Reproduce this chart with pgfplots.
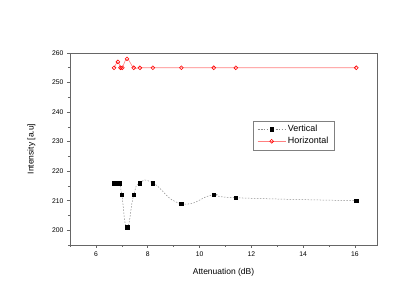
\documentclass[border=0pt]{standalone}
\usepackage{fontspec}
\setmainfont{Liberation Sans}
\usepackage{pgfplots}
\pgfplotsset{compat=1.18}
\begin{document}
\begin{tikzpicture}[x=1bp,y=1bp]
\useasboundingbox (0,0) rectangle (415,294);
\begin{axis}[
  at={(70bp,49bp)}, anchor=south west,
  scale only axis, width=307bp, height=192bp,
  xmin=5, xmax=16.85, ymin=195, ymax=260,
  xtick={6,8,10,12,14,16}, ytick={200,210,...,260},
  minor xtick={5,7,9,11,13,15}, minor ytick={195,205,...,255},
  tick align=outside, tick pos=left,
  major tick length=3bp, minor tick length=2bp,
  axis line style={draw=black!60, line width=0.8pt},
  every tick/.style={black!60, line width=0.6pt},
  /pgf/number format/assume math mode=true,
  ticklabel style={font=\fontsize{6.8}{8}\selectfont},
  xlabel={Attenuation (dB)}, ylabel={Intensity [a.u]},
  label style={font=\fontsize{8.5}{10}\selectfont},
  xlabel style={yshift=-5bp},
  ylabel style={yshift=10bp},
  legend style={at={(axis cs:12.07,237.1)}, anchor=north west,
    draw=black!50, font=\fontsize{9}{10.5}\selectfont, inner xsep=4pt, inner ysep=2.5pt, row sep=0pt},
  legend image code/.code={\draw[mark repeat=2,mark phase=2] plot coordinates {(0bp,0bp) (14bp,0bp) (28bp,0bp)};},
  legend cell align=left,
  clip=false,
]
\addplot[black!45, dash pattern=on 1.5pt off 1.5pt, line width=0.5pt, smooth, tension=0.9,
  mark=square*, mark options={solid, black, fill=black, scale=0.9}]
  coordinates {(6.7,216) (6.8,216) (6.9,216) (7.0,212) (7.2,201) (7.46,212) (7.7,216) (8.2,216) (9.3,209) (10.55,212) (11.4,211) (16.05,210)};
\addlegendentry{Vertical}
\addplot[red!50, line width=0.6pt, smooth, tension=0.7,
  mark=o, mark options={solid, red, scale=0.95}]
  coordinates {(6.7,255) (6.85,257) (6.95,255) (7.02,255) (7.2,258) (7.46,255) (7.7,255) (8.2,255) (9.3,255) (10.55,255) (11.4,255) (16.05,255)};
\addlegendentry{Horizontal}
\end{axis}
\end{tikzpicture}
\end{document}
